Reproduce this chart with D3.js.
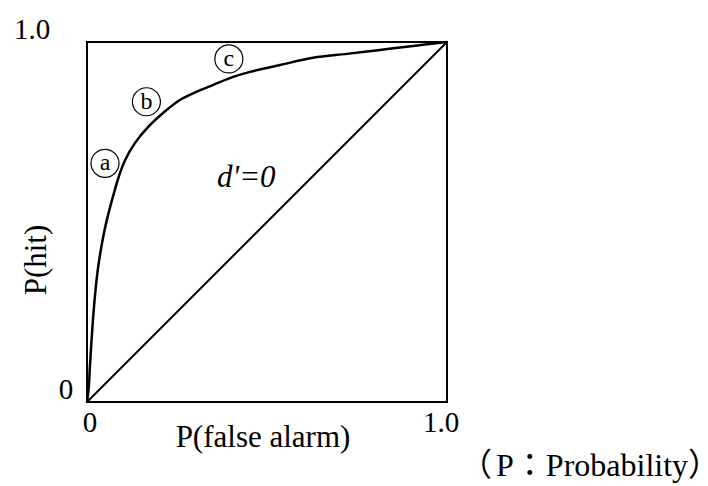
<!DOCTYPE html>
<meta charset="utf-8" />
<html>
<head>
    <style>
        body { margin: 0; background: #fff; }
        text { font-family: "Liberation Serif", "Times New Roman", serif; fill: #000; }
        .cjk { font-family: "Noto Sans CJK JP", "Liberation Serif", serif; }
        .half { font-feature-settings: "halt" 1; }
    </style>
</head>
<body>
    <svg width="708" height="486"></svg>
    <script src="https://d3js.org/d3.v7.min.js"></script>
    <script>
        // ROC curve: P(false alarm) vs P(hit)
        var falseAlarm = [0, 0.005, 0.008, 0.014, 0.021, 0.031, 0.047, 0.062, 0.075, 0.088, 0.106, 0.133, 0.170,
                          0.221, 0.258, 0.296, 0.351, 0.406, 0.453, 0.536, 0.628, 0.722, 0.814, 0.906, 1];
        var hit        = [0, 0.042, 0.097, 0.192, 0.283, 0.375, 0.469, 0.533, 0.581, 0.625, 0.672, 0.719, 0.764,
                          0.811, 0.839, 0.858, 0.881, 0.903, 0.917, 0.936, 0.956, 0.967, 0.978, 0.989, 1];

        // chance line d'=0
        var chanceX = [0, 1];
        var chanceY = [0, 1];

        // tick labels
        var xTicks = [0, 1];
        var xTickLabels = ["0", "1.0"];
        var yTicks = [0, 1];
        var yTickLabels = ["0", "1.0"];

        // circled markers along the curve
        var markerNames = ["a", "b", "c"];
        var markerX = [0.05, 0.165, 0.394];
        var markerY = [0.663, 0.834, 0.953];

        var svg = d3.select("svg");

        var x = d3.scaleLinear().domain([0, 1]).range([87, 447]);
        var y = d3.scaleLinear().domain([0, 1]).range([402, 42]);

        // frame
        svg.append("rect")
            .attr("x", x(0))
            .attr("y", y(1))
            .attr("width", x(1) - x(0))
            .attr("height", y(0) - y(1))
            .attr("fill", "none")
            .attr("stroke", "#000")
            .attr("stroke-width", 2);

        var line = d3.line()
            .x(function (d) { return x(d[0]); })
            .y(function (d) { return y(d[1]); });

        svg.append("path")
            .datum(d3.zip(chanceX, chanceY))
            .attr("d", line)
            .attr("fill", "none")
            .attr("stroke", "#000")
            .attr("stroke-width", 2);

        svg.append("path")
            .datum(d3.zip(falseAlarm, hit))
            .attr("d", line.curve(d3.curveCatmullRom.alpha(0.5)))
            .attr("fill", "none")
            .attr("stroke", "#000")
            .attr("stroke-width", 2.5);

        // tick labels
        svg.selectAll(".xtick")
            .data(xTicks)
            .enter()
            .append("text")
            .attr("class", "xtick")
            .attr("x", function (d) { return x(d) + (d === 0 ? 3 : -6); })
            .attr("y", 432)
            .attr("text-anchor", "middle")
            .attr("font-size", 29)
            .text(function (d, i) { return xTickLabels[i]; });

        svg.selectAll(".ytick")
            .data(yTicks)
            .enter()
            .append("text")
            .attr("class", "ytick")
            .attr("x", function (d) { return d === 0 ? 66 : 32; })
            .attr("y", function (d) { return d === 0 ? 399 : 39; })
            .attr("text-anchor", "middle")
            .attr("font-size", 29)
            .text(function (d, i) { return yTickLabels[i]; });

        // axis titles
        svg.append("text")
            .attr("x", 263)
            .attr("y", 447)
            .attr("text-anchor", "middle")
            .attr("font-size", 31)
            .text("P(false alarm)");

        svg.append("text")
            .attr("transform", "translate(46,260) rotate(-90)")
            .attr("text-anchor", "middle")
            .attr("font-size", 31)
            .text("P(hit)");

        svg.append("text")
            .attr("x", 217)
            .attr("y", 187)
            .attr("font-size", 31)
            .attr("font-style", "italic")
            .text("d'=0");

        // footnote, full-width brackets and colon in a CJK font
        var note = svg.append("text")
            .attr("x", 476)
            .attr("y", 476)
            .attr("font-size", 32);
        note.append("tspan").attr("class", "cjk half").text("\uFF08");
        note.append("tspan").attr("dx", 4).text("P");
        note.append("tspan").attr("class", "cjk").text("\uFF1A");
        note.append("tspan").text("Probability");
        note.append("tspan").attr("class", "cjk half").text("\uFF09");

        // circled letters
        var marker = svg.selectAll(".marker")
            .data(markerNames)
            .enter()
            .append("g")
            .attr("class", "marker")
            .attr("transform", function (d, i) {
                return "translate(" + x(markerX[i]) + "," + y(markerY[i]) + ")";
            });

        marker.append("circle")
            .attr("r", 14)
            .attr("fill", "none")
            .attr("stroke", "#000")
            .attr("stroke-width", 1.2);

        marker.append("text")
            .attr("y", 7)
            .attr("text-anchor", "middle")
            .attr("font-size", 24)
            .text(function (d) { return d; });
    </script>
</body>
</html>
